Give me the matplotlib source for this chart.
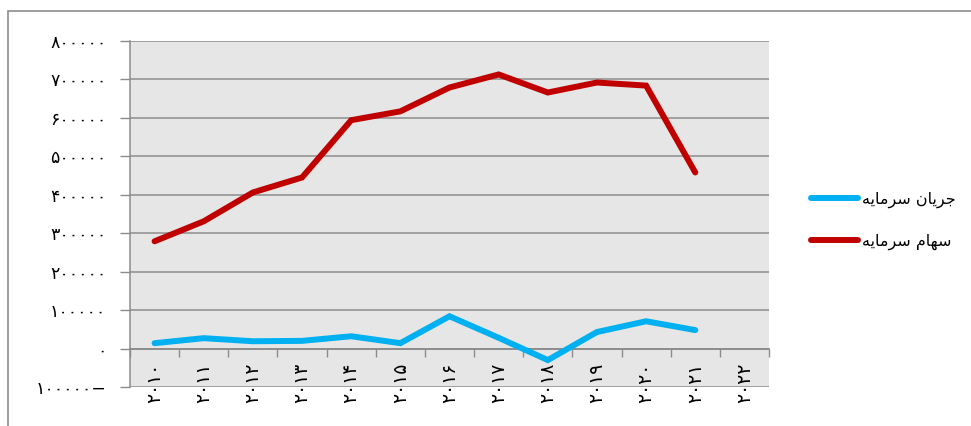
import matplotlib
matplotlib.use("Agg")
import matplotlib.pyplot as plt
from matplotlib.patches import Rectangle
from matplotlib.ticker import FixedLocator

plt.rcParams['font.family'] = ['DejaVu Sans']

# ---- data ----
years = [2010, 2011, 2012, 2013, 2014, 2015, 2016, 2017, 2018, 2019, 2020, 2021, 2022]
series_names = ["جریان سرمایه", "سهام سرمایه"]
capital_flow = [14000, 27000, 19000, 20000, 32000, 14000, 84000, 28000, -30000, 43000, 71000, 48000]
capital_stock = [279000, 331000, 406000, 445000, 594000, 617000, 679000, 713000, 666000, 692000, 684000, 458000]
y_ticks = [-100000, 0, 100000, 200000, 300000, 400000, 500000, 600000, 700000, 800000]

# ---- helpers: Persian digits and simple Arabic shaping ----
FA_DIGITS = str.maketrans("0123456789", "۰۱۲۳۴۵۶۷۸۹")

def fa_num(v):
    s = str(abs(int(v))).translate(FA_DIGITS)
    return s + "−" if v < 0 else s

FORMS = {  # isolated, final, initial, medial
    'ج': ('\uFE9D', '\uFE9E', '\uFE9F', '\uFEA0'),
    'ر': ('\uFEAD', '\uFEAE', None, None),
    'ی': ('\uFBFC', '\uFBFD', '\uFBFE', '\uFBFF'),
    'ا': ('\uFE8D', '\uFE8E', None, None),
    'ن': ('\uFEE5', '\uFEE6', '\uFEE7', '\uFEE8'),
    'س': ('\uFEB1', '\uFEB2', '\uFEB3', '\uFEB4'),
    'م': ('\uFEE1', '\uFEE2', '\uFEE3', '\uFEE4'),
    'ه': ('\uFEE9', '\uFEEA', '\uFEEB', '\uFEEC'),
}

def shape(text):
    out = []
    n = len(text)
    for i, ch in enumerate(text):
        if ch not in FORMS:
            out.append(ch)
            continue
        f = FORMS[ch]
        prev = text[i - 1] if i > 0 else None
        nxt = text[i + 1] if i < n - 1 else None
        jp = prev in FORMS and FORMS[prev][2] is not None
        jn = f[2] is not None and nxt in FORMS
        if jp and jn:
            out.append(f[3])
        elif jp:
            out.append(f[1])
        elif jn:
            out.append(f[2])
        else:
            out.append(f[0])
    return "".join(out)[::-1]

# ---- figure ----
fig = plt.figure(figsize=(9.71, 4.26), dpi=100)
W, H = 971, 426
fig.patches.append(Rectangle((8 / W, -0.1), 1.2, 1.1 - 11 / H, transform=fig.transFigure,
                             fill=False, edgecolor='#8c8c8c', linewidth=1.2))

ax = fig.add_axes([130 / W, 1 - 387 / H, (769 - 130) / W, (387 - 41) / H])
ax.set_facecolor('#e6e6e6')

x = list(range(len(years)))
ax.plot(x[:len(capital_flow)], capital_flow, color='#00b0f0', linewidth=4.3,
        solid_capstyle='round', solid_joinstyle='miter', label=shape(series_names[0]), zorder=3)
ax.plot(x[:len(capital_stock)], capital_stock, color='#c00000', linewidth=4.3,
        solid_capstyle='round', solid_joinstyle='miter', label=shape(series_names[1]), zorder=3)

ax.set_xlim(-0.5, len(years) - 0.5)
ax.set_ylim(y_ticks[0], y_ticks[-1])

# y axis
ax.set_yticks(y_ticks)
ax.set_yticklabels([fa_num(v) for v in y_ticks], fontsize=12.5)
ax.yaxis.grid(True, color='#8c8c8c', linewidth=1.1)
ax.set_axisbelow(True)
ax.tick_params(axis='y', length=7, width=1, color='#8c8c8c', pad=10)

# x axis at y=0
for s in ['top', 'right']:
    ax.spines[s].set_visible(False)
ax.spines['left'].set_color('#8c8c8c')
ax.spines['left'].set_linewidth(1.1)
ax.spines['bottom'].set_position(('data', 0))
ax.spines['bottom'].set_color('#8c8c8c')
ax.spines['bottom'].set_linewidth(1.3)
ax.set_xticks(x)
ax.set_xticklabels([str(y).translate(FA_DIGITS) for y in years], rotation=90, fontsize=13.5)
ax.xaxis.set_minor_locator(FixedLocator([i - 0.5 for i in range(len(years) + 1)]))
ax.tick_params(axis='x', which='major', length=0, pad=10)
ax.tick_params(axis='x', which='minor', length=6, width=1, color='#8c8c8c')

leg = fig.legend(loc='center left', bbox_to_anchor=(797 / W, 1 - 221 / H), frameon=False,
                 fontsize=11.5, handlelength=2.9, labelspacing=1.6, handletextpad=0.25)

fig.savefig('out.png', dpi=100)
